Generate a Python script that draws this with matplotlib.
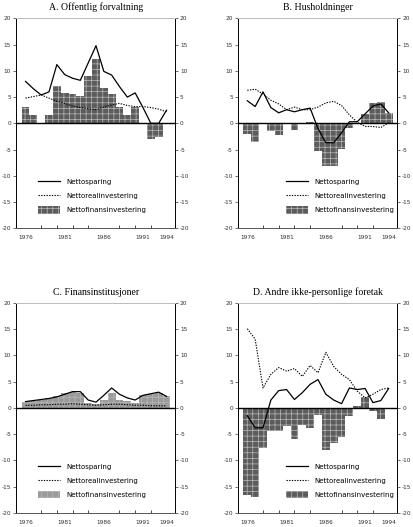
import numpy as np
import matplotlib
matplotlib.use('Agg')
import matplotlib.pyplot as plt
from matplotlib.lines import Line2D
from matplotlib.patches import Patch

years = [1976, 1977, 1978, 1979, 1980, 1981, 1982, 1983, 1984, 1985,
         1986, 1987, 1988, 1989, 1990, 1991, 1992, 1993, 1994]
xlabels = [1976, 1981, 1986, 1991, 1994]

# A. Offentlig forvaltning
a_sparing = [8.0, 6.6, 5.4, 6.0, 11.2, 9.3, 8.6, 8.2, 11.5, 14.8,
             9.9, 9.2, 7.0, 5.0, 5.8, 3.0, 0.0, 0.0, 2.5]
a_real = [4.8, 5.1, 5.4, 4.8, 4.2, 3.8, 3.3, 3.0, 2.8, 2.6,
          3.1, 3.5, 3.8, 3.4, 3.2, 3.2, 3.0, 2.7, 2.2]
a_fin = [3.2, 1.5, 0.0, 1.6, 7.2, 5.8, 5.5, 5.2, 9.1, 12.3,
         6.8, 5.6, 3.1, 1.6, 3.1, -0.2, -2.9, -2.6, -0.2]

# B. Husholdninger
b_sparing = [4.3, 3.2, 6.0, 3.0, 2.0, 2.6, 2.2, 2.6, 2.9, -1.0,
             -3.7, -3.7, -1.8, 0.3, 0.3, 1.8, 3.3, 3.7, 2.0]
b_real = [6.3, 6.5, 5.6, 4.4, 3.7, 2.6, 3.1, 2.6, 2.6, 3.1,
          3.9, 4.2, 3.4, 1.6, 0.2, -0.6, -0.6, -0.8, 0.1]
b_fin = [-2.1, -3.5, -0.1, -1.5, -2.2, -0.1, -1.3, 0.0, 0.2, -5.3,
         -8.1, -8.1, -4.9, -0.8, 0.1, 1.8, 3.8, 4.0, 1.9]

# C. Finansinstitusjoner
c_sparing = [1.2, 1.4, 1.6, 1.8, 2.1, 2.6, 3.1, 3.1, 1.5, 1.1,
             2.4, 3.8, 2.6, 1.9, 1.5, 2.4, 2.7, 3.0, 2.2]
c_real = [0.5, 0.5, 0.6, 0.6, 0.7, 0.7, 0.8, 0.7, 0.6, 0.5,
          0.6, 0.7, 0.7, 0.6, 0.5, 0.5, 0.4, 0.4, 0.4]
c_fin = [1.2, 1.4, 1.6, 1.9, 2.2, 2.8, 3.1, 2.9, 1.0, 0.8,
         1.6, 2.9, 1.5, 1.3, 1.0, 2.4, 2.6, 2.9, 2.2]

# D. Andre ikke-personlige foretak
d_sparing = [-1.5, -3.8, -3.8, 1.5, 3.3, 3.5, 1.6, 2.9, 4.5, 5.4,
             2.6, 1.5, 0.8, 3.8, 3.5, 3.7, 1.0, 1.4, 3.7]
d_real = [15.1, 13.1, 3.8, 6.4, 7.7, 7.0, 7.5, 6.0, 8.1, 6.7,
          10.6, 7.9, 6.4, 5.4, 3.2, 1.9, 2.6, 3.5, 3.8]
d_fin = [-16.7, -17.0, -7.7, -4.5, -4.5, -3.5, -6.0, -3.2, -3.9, -1.3,
         -8.1, -6.7, -5.6, -1.6, 0.4, 2.0, -0.5, -2.1, -0.1]

labels = ['Nettosparing', 'Nettorealinvestering', 'Nettofinansinvestering']

panels = [
    ('A. Offentlig forvaltning', a_sparing, a_real, a_fin, [0.039, 0.567, 0.385, 0.398], 0.10, '#5c5c5c'),
    ('B. Husholdninger', b_sparing, b_real, b_fin, [0.576, 0.567, 0.386, 0.398], 0.26, '#5c5c5c'),
    ('C. Finansinstitusjoner', c_sparing, c_real, c_fin, [0.039, 0.027, 0.385, 0.398], 0.10, '#9a9a9a'),
    ('D. Andre ikke-personlige foretak', d_sparing, d_real, d_fin, [0.576, 0.027, 0.386, 0.398], 0.26, '#5c5c5c'),
]

plt.rcParams['hatch.linewidth'] = 0.5
plt.rcParams['axes.unicode_minus'] = False
fig = plt.figure(figsize=(4.13, 5.27), dpi=100)

for title, sp, re, fi, rect, legx, bc in panels:
    ax = fig.add_axes(rect)
    ax.bar(years, fi, width=1.0, color=bc, edgecolor='#b8b8b8', hatch='+++', linewidth=0)
    ax.plot(years, sp, color='black', lw=0.9)
    ax.plot(years, re, color='black', lw=0.8, ls=(0, (1.2, 1.2)))
    ax.axhline(0, color='black', lw=1.0)
    ax.set_xlim(1974.8, 1995.1)
    ax.set_ylim(-20, 20)
    ax.set_yticks(np.arange(-20, 21, 5))
    ax.set_xticks(xlabels)
    ax.set_xticks(years[::2], minor=True)
    ax.tick_params(axis='y', left=True, right=True, labelleft=True, labelright=True,
                   direction='out', length=2, width=0.5, labelsize=4.2, pad=1.5,
                   colors='#333333')
    ax.tick_params(axis='x', which='major', length=0, labelsize=4.2, pad=5, colors='#333333')
    ax.tick_params(axis='x', which='minor', direction='in', length=2, width=0.5)
    for s in ax.spines.values():
        s.set_linewidth(0.7)
    ax.spines['top'].set_color('#bbbbbb')
    ax.spines['bottom'].set_color('#555555')
    ax.set_title(title, fontsize=7, family='Liberation Serif', pad=6)

    handles = [Line2D([], [], color='black', lw=0.9),
               Line2D([], [], color='black', lw=0.8, ls=(0, (1.2, 1.2))),
               Patch(facecolor=bc, edgecolor='#b8b8b8', hatch='+++', linewidth=0)]
    ax.legend(handles, labels, loc='lower left', bbox_to_anchor=(legx, 0.04),
              frameon=False, fontsize=5, handlelength=3.2, handleheight=1.2,
              labelspacing=1.0, handletextpad=0.9)

fig.savefig('out.png', dpi=100)
